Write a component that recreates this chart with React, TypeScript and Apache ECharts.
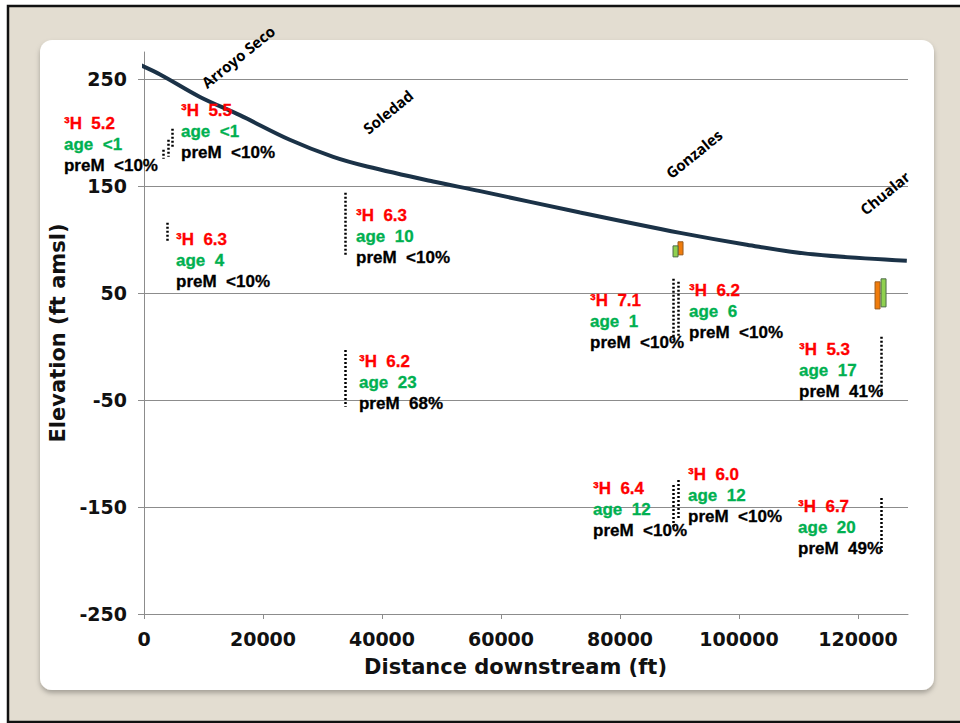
import React, { useEffect, useRef } from "react";
import * as echarts from "echarts";

// River bed profile (distance downstream in ft, elevation in ft amsl)
const riverDistance = [-1500, 2700, 9400, 16100, 24500, 31800, 37500, 48600, 56500, 73300, 90100, 101300, 112400, 128200];
const riverElevation = [265, 254, 233, 216, 193, 177, 168, 154, 145, 125, 106, 95, 86, 80];

const xTicks = [0, 20000, 40000, 60000, 80000, 100000, 120000];
const yTicks = [-250, -150, -50, 50, 150, 250];

// Towns along the river
const placeNames = ["Arroyo Seco", "Soledad", "Gonzales", "Chualar"];
const placeDistance = [15800, 41000, 92400, 124500];
const placeElevation = [270.6, 219.2, 179.9, 143.5];

// Well sample results: tritium (TU), groundwater age (yr), pre-modern fraction
const sampleDistance = [-13450, 6220, 5380, 35630, 36130, 74960, 91600, 110080, 75460, 91430, 109920];
const sampleElevation = [188.2, 200.5, 79.9, 102.3, -34.1, 22.9, 32.2, -22.9, -152.8, -139.7, -169.6];
const tritium = ["5.2", "5.5", "6.3", "6.3", "6.2", "7.1", "6.2", "5.3", "6.4", "6.0", "6.7"];
const age = ["<1", "<1", "4", "10", "23", "1", "6", "17", "12", "12", "20"];
const preModern = ["<10%", "<10%", "<10%", "<10%", "68%", "<10%", "<10%", "41%", "<10%", "<10%", "49%"];

// Well screen intervals (dotted verticals): distance, top and bottom elevation
const screenDistance = [3190, 4030, 4710, 3870, 33780, 33780, 88910, 89750, 88910, 89750, 123870, 123870];
const screenTop = [183.6, 193.0, 203.3, 115.4, 143.5, -3.3, 63.1, 60.3, -129.4, -124.8, 8.9, -141.6];
const screenBottom = [175.2, 177.1, 186.4, 96.7, 85.5, -56.5, 6.1, 8.9, -168.7, -162.1, -45.3, -193.0];

// Shallow monitoring screens near the river
const orangeScreenDistance = [90170, 123280];
const orangeScreenTop = [97.7, 60.3];
const orangeScreenBottom = [85.5, 35.0];
const greenScreenDistance = [89330, 124290];
const greenScreenTop = [93.9, 63.1];
const greenScreenBottom = [83.6, 36.9];

const AXIS_GRAY = "#8c8c8c";
const TICK_FONT = "'DejaVu Sans', Verdana, sans-serif";
const NOTE_FONT = "'Liberation Sans', Arial, sans-serif";

function screenSeries(name: string, dist: number[], top: number[], bottom: number[], fill: string, stroke: string) {
  return {
    name,
    type: "custom",
    clip: false,
    z: 4,
    data: dist.map((d, i) => [d, top[i], bottom[i]]),
    renderItem: (_params: any, api: any) => {
      const a = api.coord([api.value(0), api.value(1)]);
      const b = api.coord([api.value(0), api.value(2)]);
      return {
        type: "rect",
        shape: { x: a[0] - 2.5, y: a[1], width: 5, height: b[1] - a[1] },
        style: { fill, stroke, lineWidth: 1 },
      };
    },
  };
}

export default function App() {
  const ref = useRef<HTMLDivElement>(null);

  useEffect(() => {
    if (!ref.current) return;
    const chart = echarts.init(ref.current, null, { renderer: "svg" });

    const noteStyle = (color: string) => ({
      color,
      fontFamily: NOTE_FONT,
      fontWeight: "bold",
      fontSize: 17,
      lineHeight: 21,
      textBorderColor: color,
      textBorderWidth: 0.3,
    });

    const option: any = {
      animation: false,
      backgroundColor: "#ffffff",
      graphic: {
        z: -10,
        elements: [
          {
            type: "rect",
            z: -10,
            shape: { x: 8, y: 6, width: 960, height: 716 },
            style: { fill: "#e3ddd1", stroke: "#111111", lineWidth: 2.5 },
          },
          {
            type: "rect",
            z: -9,
            shape: { x: 40, y: 40, width: 894, height: 650, r: 12 },
            style: {
              fill: "#ffffff",
              shadowBlur: 5,
              shadowOffsetY: 3,
              shadowColor: "rgba(0,0,0,0.28)",
            },
          },
        ],
      },
      grid: { left: 144, right: 52, top: 52, bottom: 109, containLabel: false },
      xAxis: {
        type: "value",
        min: 0,
        max: 128400,
        interval: 20000,
        name: "Distance downstream (ft)",
        nameLocation: "middle",
        nameGap: 42,
        nameTextStyle: {
          fontFamily: TICK_FONT,
          fontWeight: "bold",
          fontSize: 21,
          color: "#111",
          padding: [0, 21, 0, 0],
        },
        axisLine: { show: true, onZero: false, lineStyle: { color: AXIS_GRAY, width: 1 } },
        axisTick: { show: true, length: 5, customValues: xTicks, lineStyle: { color: AXIS_GRAY } },
        axisLabel: {
          customValues: xTicks,
          formatter: (v: number) => String(v),
          margin: 15,
          fontFamily: TICK_FONT,
          fontWeight: "bold",
          fontSize: 19,
          color: "#111",
        },
        splitLine: { show: false },
      },
      yAxis: {
        type: "value",
        min: -250,
        max: 275,
        interval: 100,
        name: "Elevation (ft amsl)",
        nameLocation: "middle",
        nameGap: 71,
        nameTextStyle: {
          fontFamily: TICK_FONT,
          fontWeight: "bold",
          fontSize: 21,
          color: "#111",
        },
        axisLine: { show: true, onZero: false, lineStyle: { color: AXIS_GRAY, width: 1 } },
        axisTick: { show: true, length: 6, customValues: yTicks, lineStyle: { color: AXIS_GRAY } },
        axisLabel: {
          customValues: yTicks,
          formatter: (v: number) => String(v),
          margin: 17,
          lineHeight: 17,
          fontFamily: TICK_FONT,
          fontWeight: "bold",
          fontSize: 19,
          color: "#111",
        },
        splitLine: {
          show: true,
          lineStyle: {
            color: [AXIS_GRAY, AXIS_GRAY, AXIS_GRAY, AXIS_GRAY, AXIS_GRAY, AXIS_GRAY, "rgba(0,0,0,0)"],
            width: 1,
          },
        },
      },
      series: [
        {
          name: "River bed",
          type: "line",
          smooth: 0.35,
          showSymbol: false,
          clip: false,
          z: 3,
          data: riverDistance.map((d, i) => [d, riverElevation[i]]),
          lineStyle: { color: "#1b3247", width: 4 },
        },
        {
          name: "Screened interval",
          type: "lines",
          coordinateSystem: "cartesian2d",
          z: 4,
          data: screenDistance.map((d, i) => ({
            coords: [
              [d, screenTop[i]],
              [d, screenBottom[i]],
            ],
          })),
          lineStyle: { color: "#000000", width: 2.5, type: [2, 2], opacity: 1, cap: "butt" },
        },
        screenSeries("Orange screen", orangeScreenDistance, orangeScreenTop, orangeScreenBottom, "#f07c0c", "#9a5a1c"),
        screenSeries("Green screen", greenScreenDistance, greenScreenTop, greenScreenBottom, "#8fd14f", "#4e6b4a"),
        {
          name: "Samples",
          type: "scatter",
          clip: false,
          z: 5,
          symbolSize: 0,
          itemStyle: { color: "#000000", opacity: 1 },
          data: sampleDistance.map((d, i) => ({
            value: [d, sampleElevation[i]],
            tritium: tritium[i],
            age: age[i],
            preM: preModern[i],
          })),
          label: {
            show: true,
            position: [0, 0],
            align: "left",
            verticalAlign: "middle",
            fontFamily: NOTE_FONT,
            fontWeight: "bold",
            fontSize: 17,
            lineHeight: 21,
            formatter: (p: any) =>
              `{r|³H  ${p.data.tritium}}\n{g|age  ${p.data.age}}\n{k|preM  ${p.data.preM}}`,
            rich: {
              r: noteStyle("#ff0000"),
              g: noteStyle("#00b050"),
              k: noteStyle("#000000"),
            },
          },
        },
        {
          name: "Places",
          type: "scatter",
          clip: false,
          z: 5,
          symbolSize: 0,
          itemStyle: { color: "#000000", opacity: 1 },
          data: placeDistance.map((d, i) => ({ value: [d, placeElevation[i]], name: placeNames[i] })),
          label: {
            show: true,
            position: [0, 0],
            align: "center",
            verticalAlign: "middle",
            rotate: 39,
            formatter: (p: any) => p.name,
            fontFamily: "'Open Sans', sans-serif",
            fontWeight: "bold",
            fontSize: 15,
            color: "#000000",
          },
        },
      ],
    };

    chart.setOption(option);
    return () => chart.dispose();
  }, []);

  return (
    <div style={{ position: "absolute", left: 0, top: 0, width: 960, height: 723 }}>
      <div ref={ref} style={{ width: 960, height: 723 }} />
    </div>
  );
}
